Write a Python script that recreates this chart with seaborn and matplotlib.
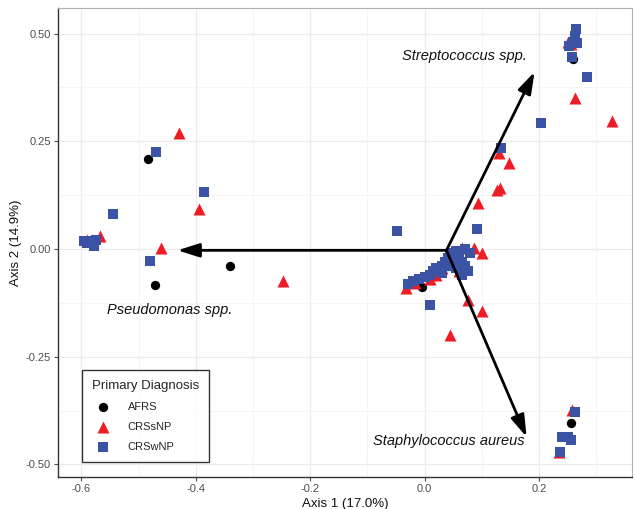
import matplotlib
matplotlib.use("Agg")
import matplotlib.pyplot as plt
import seaborn as sns
import pandas as pd
from matplotlib.ticker import MultipleLocator

afrs_x = [-0.484, -0.340, -0.472, -0.005, 0.260, 0.255, 0.040]
afrs_y = [0.209, -0.040, -0.084, -0.088, 0.440, -0.404, -0.040]

crssnp_x = [-0.430, -0.395, -0.568, -0.590, -0.580, -0.461, -0.248,
            0.094, 0.065, 0.087, 0.100, -0.033, -0.017, 0.075, 0.100, 0.045,
            0.040, 0.060, 0.020, 0.010, 0.050, 0.030,
            0.129, 0.147, 0.127, 0.131,
            0.250, 0.256, 0.262, 0.328,
            0.257, 0.234]
crssnp_y = [0.270, 0.093, 0.030, 0.022, 0.022, 0.002, -0.074,
            0.107, 0.002, 0.002, -0.010, -0.090, -0.079, -0.118, -0.144, -0.200,
            -0.020, -0.050, -0.060, -0.070, -0.030, -0.045,
            0.223, 0.200, 0.137, 0.142,
            0.480, 0.475, 0.350, 0.297,
            -0.374, -0.470]

crswnp_x = [-0.470, -0.386, -0.545, -0.595, -0.585, -0.575, -0.578, -0.590, -0.480,
            -0.049, 0.091, 0.010,
            -0.020, -0.010, 0.000, 0.010, 0.015, 0.020, 0.030, 0.035, 0.040, 0.045,
            0.050, 0.055, 0.060, 0.065, 0.070, 0.075, 0.065, 0.055, 0.045, 0.080,
            0.070, 0.030, -0.030,
            0.134,
            0.264, 0.262, 0.260, 0.267, 0.253, 0.258, 0.283, 0.203,
            0.262, 0.240, 0.250, 0.255, 0.236]
crswnp_y = [0.225, 0.132, 0.081, 0.018, 0.018, 0.020, 0.008, 0.015, -0.028,
            0.042, 0.046, -0.130,
            -0.075, -0.070, -0.065, -0.060, -0.050, -0.045, -0.040, -0.030, -0.020, -0.015,
            -0.010, -0.005, -0.020, -0.030, -0.040, -0.050, -0.060, -0.045, -0.040, -0.010,
            0.000, -0.055, -0.080,
            0.235,
            0.510, 0.495, 0.480, 0.478, 0.470, 0.445, 0.400, 0.292,
            -0.378, -0.437, -0.437, -0.443, -0.472]

groups = ["AFRS", "CRSsNP", "CRSwNP"]
colors = {"AFRS": "#000000", "CRSsNP": "#ee1c25", "CRSwNP": "#3a53a4"}
markers = {"AFRS": "o", "CRSsNP": "^", "CRSwNP": "s"}

arrow_origin = (0.038, -0.003)
arrow_names = ["Streptococcus spp.", "Pseudomonas spp.", "Staphylococcus aureus"]
arrow_x = [0.192, -0.432, 0.178]
arrow_y = [0.411, -0.003, -0.436]
label_x = [0.178, -0.555, -0.091]
label_y = [0.447, -0.142, -0.445]
label_ha = ["right", "left", "left"]

df = pd.concat([
    pd.DataFrame({"x": afrs_x, "y": afrs_y, "Primary Diagnosis": "AFRS"}),
    pd.DataFrame({"x": crssnp_x, "y": crssnp_y, "Primary Diagnosis": "CRSsNP"}),
    pd.DataFrame({"x": crswnp_x, "y": crswnp_y, "Primary Diagnosis": "CRSwNP"}),
], ignore_index=True)

sns.set_theme(style="whitegrid")
plt.rcParams["font.family"] = ["Liberation Sans", "DejaVu Sans"]

fig = plt.figure(figsize=(6.35, 5.09), dpi=100)
ax = fig.add_axes([0.0913, 0.0629, 0.9037, 0.9211])

for g, s in zip(groups, [45, 75, 58]):
    sub = df[df["Primary Diagnosis"] == g]
    sns.scatterplot(data=sub, x="x", y="y", color=colors[g], marker=markers[g],
                    s=s, linewidth=0, ax=ax, label=g, zorder=3)

for name, ex, ey, lx, ly, ha in zip(arrow_names, arrow_x, arrow_y, label_x, label_y, label_ha):
    ax.annotate("", xy=(ex, ey), xytext=arrow_origin,
                arrowprops=dict(arrowstyle="-|>,head_length=1.1,head_width=0.35",
                                color="black", lw=2.0, shrinkA=0, shrinkB=0),
                zorder=4)
    ax.text(lx, ly, name, ha=ha, va="center", fontsize=10.5, style="italic",
            color="#111111", zorder=5)

ax.set_xlim(-0.641, 0.362)
ax.set_ylim(-0.529, 0.559)
ax.xaxis.set_minor_locator(MultipleLocator(0.1))
ax.yaxis.set_minor_locator(MultipleLocator(0.125))
ax.set_xticks([-0.6, -0.4, -0.2, 0.0, 0.2])
ax.set_xticklabels(["-0.6", "-0.4", "-0.2", "0.0", "0.2"])
ax.set_yticks([-0.5, -0.25, 0.0, 0.25, 0.5])
ax.set_yticklabels(["-0.50", "-0.25", "0.00", "0.25", "0.50"])
ax.grid(which="major", color="#ebebeb", linewidth=0.9)
ax.grid(which="minor", color="#f4f4f4", linewidth=0.6)
ax.set_axisbelow(True)
ax.tick_params(axis="both", which="major", labelsize=8, colors="#4d4d4d",
               length=3, width=0.8, direction="out", left=True, bottom=True, pad=2)
ax.tick_params(axis="both", which="minor", length=0)
for side in ["left", "bottom"]:
    ax.spines[side].set_color("#333333")
    ax.spines[side].set_linewidth(1.0)
for side in ["top", "right"]:
    ax.spines[side].set_color("#b0b0b0")
    ax.spines[side].set_linewidth(0.8)
ax.set_xlabel("Axis 1 (17.0%)", fontsize=9.5, color="#111111", labelpad=3)
ax.set_ylabel("Axis 2 (14.9%)", fontsize=9.5, color="#111111", labelpad=3)

leg = ax.legend(title="Primary Diagnosis", loc="lower left",
                bbox_to_anchor=(0.042, 0.032), fontsize=8, title_fontsize=9.5,
                frameon=True, fancybox=False, edgecolor="black",
                borderpad=0.9, labelspacing=0.9, handletextpad=1.2,
                borderaxespad=0)
leg.get_frame().set_linewidth(1.0)
leg._legend_box.align = "left"

fig.savefig("out.png", dpi=100)
